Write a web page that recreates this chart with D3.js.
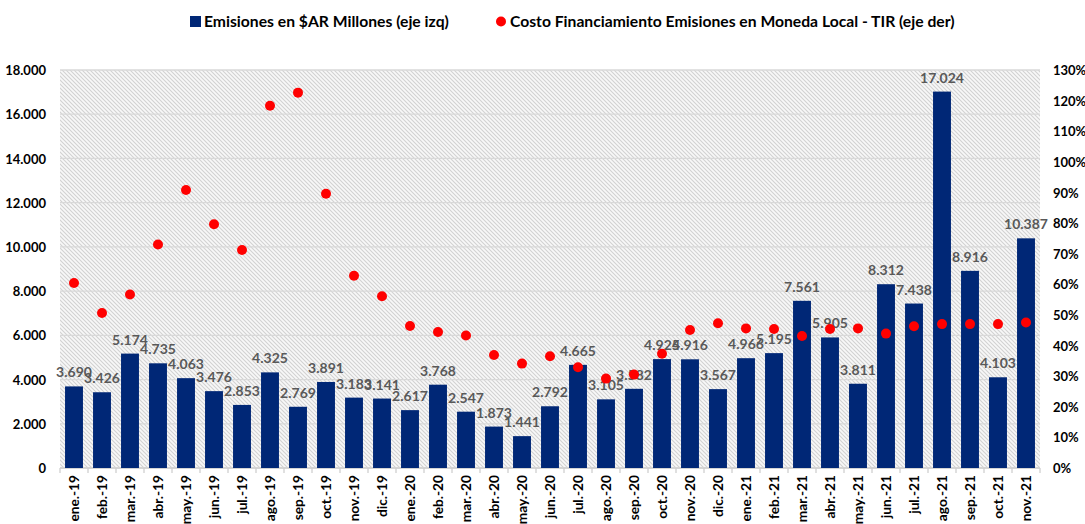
<!DOCTYPE html>
<html lang="es">
<head>
<meta charset="UTF-8">
<title>Emisiones en $AR</title>
<script src="https://d3js.org/d3.v7.min.js"></script>
<style>
    body { margin: 0; background: #fff; }
    svg text { font-family: Lato, "Open Sans", sans-serif; font-weight: bold; }
</style>
</head>
<body>
<svg id="chart" width="1085" height="524"></svg>
<script>
    // categorias (meses)
    var meses = ["ene.-19", "feb.-19", "mar.-19", "abr.-19", "may.-19", "jun.-19", "jul.-19", "ago.-19", "sep.-19", "oct.-19", "nov.-19", "dic.-19",
        "ene.-20", "feb.-20", "mar.-20", "abr.-20", "may.-20", "jun.-20", "jul.-20", "ago.-20", "sep.-20", "oct.-20", "nov.-20", "dic.-20",
        "ene.-21", "feb.-21", "mar.-21", "abr.-21", "may.-21", "jun.-21", "jul.-21", "ago.-21", "sep.-21", "oct.-21", "nov.-21"];

    // Emisiones en $AR Millones (eje izq)
    var emisiones = [3690, 3426, 5174, 4735, 4063, 3476, 2853, 4325, 2769, 3891, 3183, 3141,
        2617, 3768, 2547, 1873, 1441, 2792, 4665, 3105, 3582, 4925, 4916, 3567,
        4966, 5195, 7561, 5905, 3811, 8312, 7438, 17024, 8916, 4103, 10387];

    // TIR en % (eje der)
    var tir = [60.4, 50.6, 56.7, 73.0, 90.8, 79.6, 71.2, 118.3, 122.6, 89.6, 62.8, 56.1,
        46.4, 44.4, 43.3, 36.9, 34.1, 36.5, 32.9, 29.2, 30.5, 37.3, 45.1, 47.3,
        45.6, 45.4, 43.1, 45.4, 45.6, 43.9, 46.3, 47.0, 47.0, 47.0, 47.5];

    var ticksIzq = d3.range(0, 18001, 2000);
    var ticksDer = d3.range(0, 131, 10);

    var svg = d3.select("#chart");
    var m = {left: 60, right: 1040, top: 70, bottom: 468};

    var x = d3.scaleBand().domain(meses).range([m.left, m.right]).paddingInner(0.36).paddingOuter(0.18);
    var band = d3.scaleBand().domain(meses).range([m.left, m.right]);
    var yL = d3.scaleLinear().domain([0, 18000]).range([m.bottom, m.top]);
    var yR = d3.scaleLinear().domain([0, 130]).range([m.bottom, m.top]);

    var fmt = function (v) { return d3.format(",")(v).replace(/,/g, "."); };

    // fondo rayado
    var pat = svg.append("defs").append("pattern")
        .attr("id", "rayas").attr("patternUnits", "userSpaceOnUse")
        .attr("width", 4).attr("height", 4);
    pat.append("rect").attr("width", 4).attr("height", 4).attr("fill", "#f8f8f8");
    pat.append("path").attr("d", "M-1,-1 L5,5 M3,-1 L5,1 M-1,3 L1,5")
        .attr("stroke", "#d2d2d2").attr("stroke-width", 1.1);

    svg.append("rect")
        .attr("x", m.left).attr("y", m.top)
        .attr("width", m.right - m.left).attr("height", m.bottom - m.top)
        .attr("fill", "url(#rayas)");

    // grilla
    svg.append("g").selectAll("line").data(ticksIzq).enter().append("line")
        .attr("x1", m.left).attr("x2", m.right)
        .attr("y1", function (d) { return yL(d); }).attr("y2", function (d) { return yL(d); })
        .attr("stroke", "#d9d9d9").attr("stroke-width", 1.3);

    // eje izq
    var axL = svg.append("g").attr("transform", "translate(" + (m.left - 14) + ",0)")
        .call(d3.axisLeft(yL).tickValues(ticksIzq).tickFormat(fmt).tickSize(0));
    axL.select(".domain").remove();
    axL.selectAll("text").attr("font-size", 13).attr("fill", "#000").attr("dy", "0.35em").attr("x", 0);

    // eje der
    var axR = svg.append("g").attr("transform", "translate(" + (m.right + 13) + ",0)")
        .call(d3.axisRight(yR).tickValues(ticksDer).tickFormat(function (d) { return d + "%"; }).tickSize(0));
    axR.select(".domain").remove();
    axR.selectAll("text").attr("font-size", 13).attr("fill", "#000").attr("dy", "0.35em").attr("x", 0);

    // eje x
    var axX = svg.append("g").attr("transform", "translate(0," + m.bottom + ")");
    axX.append("line").attr("x1", m.left).attr("x2", m.right)
        .attr("stroke", "#d0d0d0").attr("stroke-width", 1.3);
    axX.selectAll(".tk").data(meses.concat(["fin"])).enter().append("line")
        .attr("x1", function (d, i) { return m.left + i * band.bandwidth(); })
        .attr("x2", function (d, i) { return m.left + i * band.bandwidth(); })
        .attr("y1", 0).attr("y2", 5)
        .attr("stroke", "#d0d0d0").attr("stroke-width", 1.3);
    axX.selectAll(".lbl").data(meses).enter().append("text")
        .attr("transform", function (d) {
            return "translate(" + (band(d) + band.bandwidth() / 2 + 5) + ",7) rotate(-90)";
        })
        .attr("text-anchor", "end")
        .attr("font-size", 13.7)
        .attr("fill", "#000")
        .text(function (d) { return d; });

    // barras
    svg.append("g").selectAll("rect").data(emisiones).enter().append("rect")
        .attr("x", function (d, i) { return x(meses[i]); })
        .attr("y", function (d) { return yL(d); })
        .attr("width", x.bandwidth())
        .attr("height", function (d) { return yL(0) - yL(d); })
        .attr("fill", "#002776");

    // etiquetas de barras
    svg.append("g").selectAll("text").data(emisiones).enter().append("text")
        .attr("x", function (d, i) { return band(meses[i]) + band.bandwidth() / 2; })
        .attr("y", function (d) { return yL(d) - 9; })
        .attr("text-anchor", "middle")
        .attr("font-size", 14)
        .attr("fill", "#595959")
        .text(fmt);

    // puntos TIR
    svg.append("g").selectAll("circle").data(tir).enter().append("circle")
        .attr("cx", function (d, i) { return band(meses[i]) + band.bandwidth() / 2; })
        .attr("cy", function (d) { return yR(d); })
        .attr("r", 5)
        .attr("fill", "#ff0000");

    // leyenda
    var leg = svg.append("g");
    leg.append("rect").attr("x", 190).attr("y", 16).attr("width", 11).attr("height", 11).attr("fill", "#002776");
    leg.append("text").attr("x", 204).attr("y", 27).attr("font-size", 15.7).attr("fill", "#000")
        .text("Emisiones en $AR Millones (eje izq)");
    leg.append("circle").attr("cx", 501).attr("cy", 21.5).attr("r", 5).attr("fill", "#ff0000");
    leg.append("text").attr("x", 510).attr("y", 27).attr("font-size", 15.7).attr("fill", "#000")
        .text("Costo Financiamiento Emisiones en Moneda Local - TIR (eje der)");
</script>
</body>
</html>
